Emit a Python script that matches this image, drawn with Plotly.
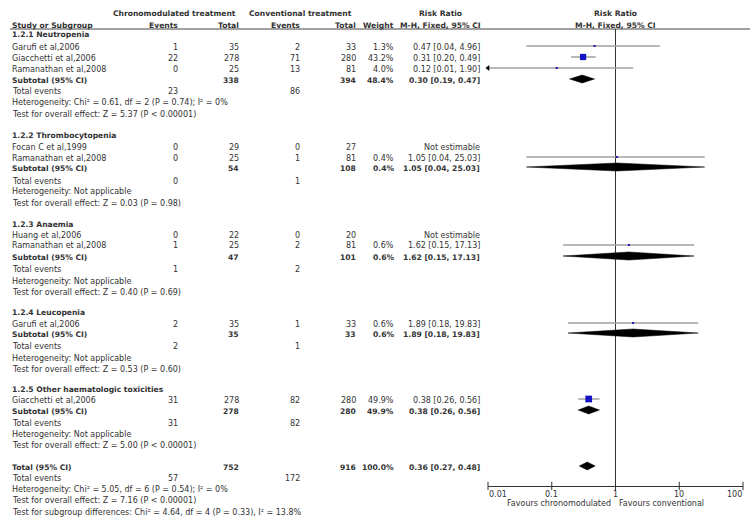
import plotly.graph_objects as go
import math

# ---------------- DATA ----------------
subgroups = ["1.2.1 Neutropenia", "1.2.2 Thrombocytopenia", "1.2.3 Anaemia",
             "1.2.4 Leucopenia", "1.2.5 Other haematologic toxicities"]

study_names = ["Garufi et al,2006", "Giacchetti et al,2006", "Ramanathan et al,2008",
               "Focan C et al,1999", "Ramanathan et al,2008",
               "Huang et al,2006", "Ramanathan et al,2008",
               "Garufi et al,2006",
               "Giacchetti et al,2006"]
study_group = [0, 0, 0, 1, 1, 2, 2, 3, 4]
chrono_events = [1, 22, 0, 0, 0, 0, 1, 2, 31]
chrono_total = [35, 278, 25, 29, 25, 22, 25, 35, 278]
conv_events = [2, 71, 13, 0, 1, 0, 2, 1, 82]
conv_total = [33, 280, 81, 27, 81, 20, 81, 33, 280]
weight = [1.3, 43.2, 4.0, None, 0.4, None, 0.6, 0.6, 49.9]
rr = [0.47, 0.31, 0.12, None, 1.05, None, 1.62, 1.89, 0.38]
rr_lo = [0.04, 0.20, 0.01, None, 0.04, None, 0.15, 0.18, 0.26]
rr_hi = [4.96, 0.49, 1.90, None, 25.03, None, 17.13, 19.83, 0.56]

sub_chrono_total = [338, 54, 47, 35, 278]
sub_conv_total = [394, 108, 101, 33, 280]
sub_weight = [48.4, 0.4, 0.6, 0.6, 49.9]
sub_rr = [0.30, 1.05, 1.62, 1.89, 0.38]
sub_lo = [0.19, 0.04, 0.15, 0.18, 0.26]
sub_hi = [0.47, 25.03, 17.13, 19.83, 0.56]
sub_chrono_events = [23, 0, 1, 2, 31]
sub_conv_events = [86, 1, 2, 1, 82]
sub_heterogeneity = ["Heterogeneity: Chi² = 0.61, df = 2 (P = 0.74); I² = 0%",
                     "Heterogeneity: Not applicable",
                     "Heterogeneity: Not applicable",
                     "Heterogeneity: Not applicable",
                     "Heterogeneity: Not applicable"]
sub_overall = ["Test for overall effect: Z = 5.37 (P < 0.00001)",
               "Test for overall effect: Z = 0.03 (P = 0.98)",
               "Test for overall effect: Z = 0.40 (P = 0.69)",
               "Test for overall effect: Z = 0.53 (P = 0.60)",
               "Test for overall effect: Z = 5.00 (P < 0.00001)"]

total_chrono = 752
total_conv = 916
total_weight = 100.0
total_rr, total_lo, total_hi = 0.36, 0.27, 0.48
total_chrono_events = 57
total_conv_events = 172
total_heterogeneity = "Heterogeneity: Chi² = 5.05, df = 6 (P = 0.54); I² = 0%"
total_overall = "Test for overall effect: Z = 7.16 (P < 0.00001)"
subgroup_diff = "Test for subgroup differences: Chi² = 4.64, df = 4 (P = 0.33), I² = 13.8%"

axis_ticks = [0.01, 0.1, 1, 10, 100]
axis_ticktext = ["0.01", "0.1", "1", "10", "100"]
favours_left = "Favours chronomodulated"
favours_right = "Favours conventional"

# ---------------- LAYOUT (pixel positions) ----------------
W, H = 750, 518
AXIS_Y = 486
X_NAME, X_CEV, X_CTOT, X_VEV, X_VTOT, X_W, X_RR = 11, 179, 240, 301, 357, 395, 481
FONT = "DejaVu Sans"
TXT = "#333333"
BOLD_SIZE = 7.6
DY = 1  # small vertical text nudge

section_rows = [
    dict(head=34, studies=[46, 57, 68], sub=79, te=91, het=102, test=113),
    dict(head=134, studies=[146, 157], sub=167, te=180, het=191, test=202),
    dict(head=223, studies=[234, 245], sub=256, te=268, het=280, test=291),
    dict(head=311, studies=[323], sub=333, te=345, het=357, test=368),
    dict(head=388, studies=[399], sub=410, te=422, het=433, test=445),
]
total_rows = dict(tot=466, te=477, het=488, test=499, sg=511)

annotations = []


def txt(x, y, s, anchor="right", bold=False, size=8, color=TXT):
    if bold:
        s = "<b>" + s + "</b>"
        size = BOLD_SIZE
    annotations.append(dict(x=x / W, y=1 - (y + DY) / H, xref="paper", yref="paper",
                            text=s, showarrow=False, xanchor=anchor, yanchor="middle",
                            borderpad=0,
                            font=dict(family=FONT, size=size, color=color)))


# headers
txt(174, 13, "Chronomodulated treatment", "center", True)
txt(300, 13, "Conventional treatment", "center", True)
txt(440, 13, "Risk Ratio", "center", True)
txt(615, 13, "Risk Ratio", "center", True)
txt(X_NAME, 24, "Study or Subgroup", "left", True)
txt(X_CEV, 24, "Events", "right", True)
txt(X_CTOT, 24, "Total", "right", True)
txt(X_VEV, 24, "Events", "right", True)
txt(X_VTOT, 24, "Total", "right", True)
txt(X_W, 24, "Weight", "right", True)
txt(440, 24, "M-H, Fixed, 95% CI", "center", True)
txt(615, 24, "M-H, Fixed, 95% CI", "center", True)


def ci_text(e, lo, hi):
    return f"{e:.2f} [{lo:.2f}, {hi:.2f}]"


fig = go.Figure()

study_y = []
for g, rows in enumerate(section_rows):
    txt(X_NAME, rows["head"], subgroups[g], "left", True)
    idx = [i for i, sg in enumerate(study_group) if sg == g]
    for i, y in zip(idx, rows["studies"]):
        study_y.append(y)
        txt(X_NAME, y, study_names[i], "left")
        txt(X_CEV, y, str(chrono_events[i]))
        txt(X_CTOT, y, str(chrono_total[i]))
        txt(X_VEV, y, str(conv_events[i]))
        txt(X_VTOT, y, str(conv_total[i]))
        if weight[i] is not None:
            txt(X_W, y, f"{weight[i]:.1f}%")
            txt(X_RR, y, ci_text(rr[i], rr_lo[i], rr_hi[i]))
        else:
            txt(X_RR, y, "Not estimable")
    y = rows["sub"]
    txt(X_NAME, y, "Subtotal (95% CI)", "left", True)
    txt(X_CTOT, y, str(sub_chrono_total[g]), bold=True)
    txt(X_VTOT, y, str(sub_conv_total[g]), bold=True)
    txt(X_W, y, f"{sub_weight[g]:.1f}%", bold=True)
    txt(X_RR, y, ci_text(sub_rr[g], sub_lo[g], sub_hi[g]), bold=True)
    txt(X_NAME, rows["te"], "Total events", "left")
    txt(X_CEV, rows["te"], str(sub_chrono_events[g]))
    txt(X_VEV, rows["te"], str(sub_conv_events[g]))
    txt(X_NAME, rows["het"], sub_heterogeneity[g], "left")
    txt(X_NAME, rows["test"], sub_overall[g], "left")

# overall
y = total_rows["tot"]
txt(X_NAME, y, "Total (95% CI)", "left", True)
txt(X_CTOT, y, str(total_chrono), bold=True)
txt(X_VTOT, y, str(total_conv), bold=True)
txt(X_W, y, f"{total_weight:.1f}%", bold=True)
txt(X_RR, y, ci_text(total_rr, total_lo, total_hi), bold=True)
txt(X_NAME, total_rows["te"], "Total events", "left")
txt(X_CEV, total_rows["te"], str(total_chrono_events))
txt(X_VEV, total_rows["te"], str(total_conv_events))
txt(X_NAME, total_rows["het"], total_heterogeneity, "left")
txt(X_NAME, total_rows["test"], total_overall, "left")
txt(X_NAME, total_rows["sg"], subgroup_diff, "left")

txt(612, 502, favours_left, "right")
txt(618, 502, favours_right, "left")

# tick labels placed on the log axis (first left-aligned, last right-aligned)
for k, (v, lab) in enumerate(zip(axis_ticks, axis_ticktext)):
    anchor = "left" if k == 0 else ("right" if k == len(axis_ticks) - 1 else "center")
    annotations.append(dict(x=math.log10(v), xref="x", y=1 - (493 + DY) / H, yref="paper",
                            text=lab, showarrow=False, xanchor=anchor, yanchor="middle",
                            borderpad=0, font=dict(family=FONT, size=8, color=TXT)))

# ---------------- forest marks ----------------
fig.add_trace(go.Scatter(x=[1, 1], y=[29, AXIS_Y], mode="lines",
                         line=dict(color="#333333", width=1), hoverinfo="skip"))

for i in range(len(study_names)):
    if rr[i] is None:
        continue
    y = study_y[i]
    fig.add_trace(go.Scatter(x=[rr_lo[i], rr_hi[i]], y=[y, y], mode="lines",
                             line=dict(color="#a0a0a0", width=1.5), hoverinfo="skip"))
    sz = max(2.0, math.sqrt(weight[i]) * 0.95)
    fig.add_trace(go.Scatter(x=[rr[i]], y=[y], mode="markers",
                             marker=dict(symbol="square", size=sz, color="#1414c4",
                                         line=dict(width=0)), hoverinfo="skip"))
    if rr_lo[i] <= axis_ticks[0]:
        fig.add_trace(go.Scatter(x=[axis_ticks[0]], y=[y], mode="markers", cliponaxis=False,
                                 marker=dict(symbol="triangle-left", size=5, color="#000000",
                                             line=dict(width=0)), hoverinfo="skip"))

DH = 4


def diamond(e, lo, hi, y):
    fig.add_trace(go.Scatter(x=[lo, e, hi, e, lo], y=[y, y - DH, y, y + DH, y],
                             mode="lines", fill="toself", fillcolor="#000000",
                             line=dict(color="#000000", width=0.5), hoverinfo="skip"))


for g, rows in enumerate(section_rows):
    diamond(sub_rr[g], sub_lo[g], sub_hi[g], rows["sub"])
diamond(total_rr, total_lo, total_hi, total_rows["tot"])

# tick marks crossing the axis line
fig.add_trace(go.Scatter(x=axis_ticks, y=[AXIS_Y] * len(axis_ticks), mode="markers",
                         cliponaxis=False,
                         marker=dict(symbol="line-ns", size=6,
                                     line=dict(width=1, color="#333333")),
                         hoverinfo="skip"))

shapes = [dict(type="line", xref="paper", yref="paper", x0=10 / W, x1=1.0,
               y0=1 - 29 / H, y1=1 - 29 / H, line=dict(color="#444444", width=1))]

fig.update_layout(
    width=W, height=H, margin=dict(l=0, r=0, t=0, b=0),
    paper_bgcolor="white", plot_bgcolor="white", showlegend=False,
    font=dict(family=FONT, size=8, color=TXT),
    annotations=annotations, shapes=shapes,
    xaxis=dict(type="log", domain=[488 / W, 743 / W], range=[-2, 2],
               tickvals=axis_ticks, showticklabels=False, showgrid=False,
               zeroline=False, showline=True, linecolor="#333333", linewidth=1,
               ticks=""),
    yaxis=dict(domain=[1 - AXIS_Y / H, 1], range=[AXIS_Y, 0], visible=False,
               showgrid=False, zeroline=False),
)

fig.write_html("out.html", config={"displayModeBar": False},
               post_script="document.body.style.margin='0px';document.body.style.padding='0px';")
